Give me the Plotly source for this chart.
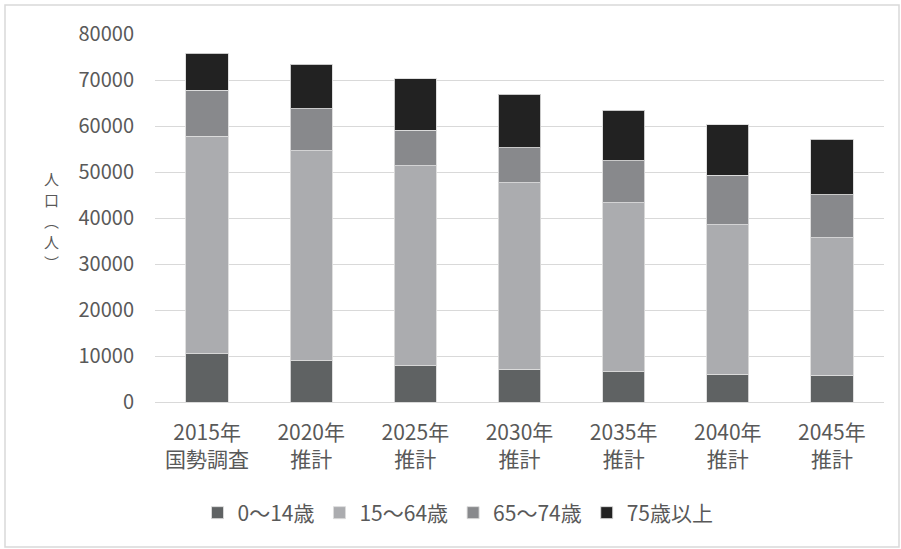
import plotly.graph_objects as go

categories = ["2015年<br>国勢調査", "2020年<br>推計", "2025年<br>推計", "2030年<br>推計",
              "2035年<br>推計", "2040年<br>推計", "2045年<br>推計"]
series_names = ["0～14歳", "15～64歳", "65～74歳", "75歳以上"]
age_0_14 = [10500, 8970, 7880, 7080, 6580, 6080, 5780]
age_15_64 = [47240, 45610, 43510, 40620, 36710, 32430, 29910]
age_65_74 = [10000, 9130, 7690, 7600, 9120, 10790, 9400]
age_75_plus = [8130, 9710, 11210, 11600, 11010, 11000, 12030]
y_ticks = [0, 10000, 20000, 30000, 40000, 50000, 60000, 70000, 80000]
y_title_chars = ["人", "口", "︵", "人", "︶"]

colors = ["#5f6263", "#abacaf", "#88898c", "#222222"]
FONT = "Noto Sans CJK JP"
TXT = "#595959"

W, H = 901, 549
L, R, T, B = 155, 17, 34, 147
pw, ph = W - L - R, H - T - B

fig = go.Figure()
for name, vals, col in zip(series_names, [age_0_14, age_15_64, age_65_74, age_75_plus], colors):
    fig.add_trace(go.Bar(
        x=categories, y=vals, name=name,
        marker=dict(color=col, line=dict(color="rgba(220,220,220,0.9)", width=1)),
    ))

fig.update_layout(
    width=W, height=H, barmode="stack", bargap=0.595,
    margin=dict(l=L, r=R, t=T, b=B),
    paper_bgcolor="white", plot_bgcolor="white",
    font=dict(family=FONT, color=TXT, size=20),
    legend=dict(orientation="h", xref="container", x=458 / W, xanchor="center",
                yref="container", y=(H - 513) / H, yanchor="middle",
                font=dict(size=21, color=TXT), itemwidth=30, traceorder="normal"),
    showlegend=True,
)
fig.update_yaxes(range=[0, 80000], tickvals=y_ticks, ticktext=[str(v) for v in y_ticks],
                 showgrid=True, gridcolor="#d9d9d9", gridwidth=1, zeroline=True,
                 zerolinecolor="#d9d9d9", zerolinewidth=1, showline=False,
                 ticks="", ticklabelstandoff=20, tickfont=dict(size=20, color=TXT))
fig.update_xaxes(showline=False, ticks="", tickfont=dict(size=21, color=TXT),
                 ticklabelstandoff=16, tickangle=0)

# vertical axis title, one character per row as in the reference
title_rows_px = [178, 199, 220, 241, 262]
for ch, py in zip(y_title_chars, title_rows_px):
    fig.add_annotation(text=ch, xref="paper", yref="paper",
                       x=(52 - L) / pw, y=(402 - py) / ph, showarrow=False,
                       font=dict(size=15, color=TXT, family=FONT),
                       xanchor="center", yanchor="middle")

fig.add_shape(type="rect", xref="paper", yref="paper",
              x0=(5 - L) / pw, x1=(899 - L) / pw, y0=(402 - 547) / ph, y1=(402 - 5) / ph,
              line=dict(color="#d9d9d9", width=1.5), fillcolor="rgba(0,0,0,0)", layer="below")

fig.write_html("out.html", config={"displayModeBar": False},
               post_script="document.body.style.margin='0';")
